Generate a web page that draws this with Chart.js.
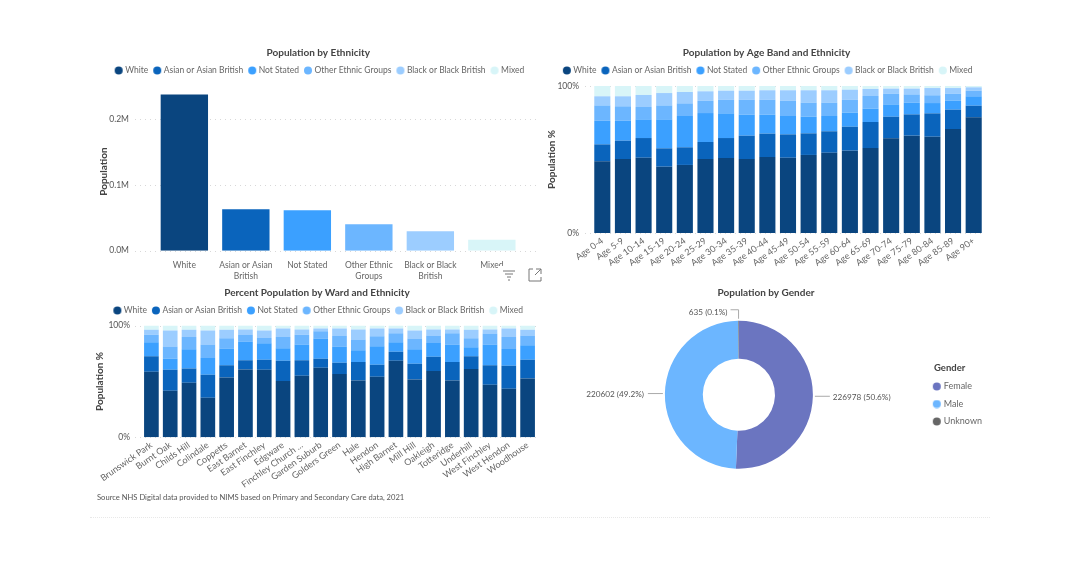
<!DOCTYPE html>
<html>
<head>
<meta charset="utf-8">
<title>Population dashboard</title>
<script src="https://cdn.jsdelivr.net/npm/chart.js@4"></script>
<style>
  html, body { margin: 0; background: #fff; }
  #page { position: relative; width: 1080px; height: 565px; overflow: hidden; filter: blur(0.45px); }
  #page canvas { position: absolute; }
  #source { position: absolute; left: 97px; top: 492px; font: 7.6px Lato, sans-serif; color: #555; white-space: nowrap; }
  #genderTitle { position: absolute; left: 934px; top: 362px; font: bold 9.5px Lato, sans-serif; color: #444; }
  #rule { position: absolute; left: 90px; top: 517px; width: 900px; border-top: 1px dotted #e8e8e8; }
  #icons { position: absolute; left: 498px; top: 266px; width: 46px; height: 18px; background: #fff; }
  #icons svg { position: absolute; top: 2px; }
</style>
</head>
<body>
<div id="page">
  <canvas id="ethnicity" style="left:90px;top:40px"></canvas>
  <canvas id="age" style="left:540px;top:40px"></canvas>
  <canvas id="ward" style="left:90px;top:280px"></canvas>
  <canvas id="gender" style="left:549px;top:280px"></canvas>
  <div id="icons">
    <svg width="14" height="14" style="left:4px" fill="none" stroke="#777" stroke-width="1"><path d="M1 3h12M3 6h8M5 9h4M6 12h2"/></svg>
    <svg width="14" height="14" style="left:30px" fill="none" stroke="#777" stroke-width="1"><path d="M5 1H1v12h12V9M8 1h5v5M13 1L7 7"/></svg>
  </div>
  <div id="genderTitle">Gender</div>
  <div id="source">Source NHS Digital data provided to NIMS based on Primary and Secondary Care data, 2021</div>
  <div id="rule"></div>
</div>
<script>
const ethnicGroups = ['White', 'Asian or Asian British', 'Not Stated', 'Other Ethnic Groups', 'Black or Black British', 'Mixed'];
const ethnicTickLabels = ['White', ['Asian or Asian', 'British'], 'Not Stated', ['Other Ethnic', 'Groups'], ['Black or Black', 'British'], 'Mixed'];
const ethnicColors = ['#0a457f', '#0a64bc', '#3ba0ff', '#6cb6ff', '#9ccdff', '#d8f5f8'];
const populationByEthnicity = [237000, 63000, 61500, 40000, 29500, 16500];
const populationTicks = [0, 100000, 200000];
const percentTicks = [0, 100];

const ageBands = ['Age 0-4', 'Age 5-9', 'Age 10-14', 'Age 15-19', 'Age 20-24', 'Age 25-29', 'Age 30-34', 'Age 35-39', 'Age 40-44', 'Age 45-49', 'Age 50-54', 'Age 55-59', 'Age 60-64', 'Age 65-69', 'Age 70-74', 'Age 75-79', 'Age 80-84', 'Age 85-89', 'Age 90+'];
const ageWhite = [48.8, 50.3, 51.2, 45.1, 46.3, 50.3, 51.0, 50.3, 51.7, 51.2, 53.1, 54.6, 56.0, 57.8, 64.4, 66.2, 65.5, 70.7, 78.7];
const ageAsian = [11.5, 12.5, 13.4, 12.5, 12.0, 11.6, 13.6, 15.9, 15.9, 15.9, 14.7, 14.6, 16.3, 17.7, 14.7, 14.5, 15.9, 13.2, 7.9];
const ageNotStated = [16.1, 13.6, 12.7, 19.7, 21.3, 19.7, 16.8, 14.3, 12.9, 12.5, 11.3, 10.4, 9.6, 9.1, 8.4, 8.0, 7.0, 6.1, 6.4];
const ageOther = [10.4, 9.8, 8.4, 9.5, 8.6, 8.4, 9.3, 10.2, 10.2, 10.4, 9.6, 9.1, 8.8, 8.6, 7.3, 5.6, 5.3, 4.8, 3.8];
const ageBlack = [6.2, 6.8, 8.2, 8.4, 7.7, 6.4, 6.1, 6.1, 6.4, 7.1, 8.4, 8.4, 6.8, 4.8, 3.4, 3.9, 4.9, 3.8, 2.3];
const ageMixed = [7.0, 7.0, 6.1, 4.8, 4.1, 3.6, 3.2, 3.2, 2.9, 2.9, 2.9, 2.9, 2.5, 2.0, 1.8, 1.8, 1.4, 1.4, 0.9];

const wards = ['Brunswick Park', 'Burnt Oak', 'Childs Hill', 'Colindale', 'Coppetts', 'East Barnet', 'East Finchley', 'Edgware', 'Finchley Church ...', 'Garden Suburb', 'Golders Green', 'Hale', 'Hendon', 'High Barnet', 'Mill Hill', 'Oakleigh', 'Totteridge', 'Underhill', 'West Finchley', 'West Hendon', 'Woodhouse'];
const wardWhite = [58.7, 41.6, 48.8, 35.3, 53.6, 60.8, 60.5, 50.3, 55.1, 62.3, 56.6, 50.9, 54.2, 68.6, 51.8, 59.3, 50.9, 61.1, 47.0, 43.4, 52.7];
const wardAsian = [13.8, 18.9, 12.9, 20.7, 10.8, 8.1, 9.0, 18.3, 13.8, 8.1, 10.2, 16.5, 10.8, 8.1, 14.1, 12.9, 16.5, 11.4, 17.4, 20.7, 16.8];
const wardNotStated = [12.6, 9.9, 17.1, 15.0, 15.0, 16.8, 14.7, 11.1, 14.1, 18.0, 14.4, 10.5, 16.5, 8.4, 12.9, 12.3, 15.6, 8.1, 18.6, 15.0, 12.9];
const wardOther = [6.6, 10.8, 11.1, 12.0, 9.3, 6.3, 4.8, 10.2, 8.7, 6.6, 9.6, 9.6, 9.0, 8.1, 9.6, 6.6, 10.2, 8.1, 9.9, 10.8, 8.7];
const wardBlack = [4.5, 14.4, 6.3, 12.6, 7.5, 4.5, 6.6, 7.5, 4.8, 2.4, 6.6, 9.0, 6.9, 4.2, 7.2, 5.4, 3.3, 7.5, 3.6, 7.5, 5.1];
const wardMixed = [3.9, 4.5, 3.9, 4.5, 3.9, 3.6, 4.5, 2.7, 3.6, 2.7, 2.7, 3.6, 2.7, 2.7, 4.5, 3.6, 3.6, 3.9, 3.6, 2.7, 3.9];

const genders = ['Female', 'Male', 'Unknown'];
const genderValues = [226978, 220602, 635];
const genderLabels = ['226978 (50.6%)', '220602 (49.2%)', '635 (0.1%)'];
const genderColors = ['#6b75c0', '#6cb6ff', '#666666'];

const FONT = 'Lato, sans-serif';
const TEXT = '#666';
const TITLE = '#444';

// legend marker: a circle sitting close to its text
function dot(color) {
  const c = document.createElement('canvas');
  c.width = 14;
  c.height = 9;
  const x = c.getContext('2d');
  x.fillStyle = color;
  x.beginPath();
  x.arc(9, 4.5, 4, 0, Math.PI * 2);
  x.fill();
  return c;
}

function legendItems(names, colors) {
  return () => names.map((n, i) => ({ text: n, fillStyle: colors[i], strokeStyle: colors[i], fontColor: TEXT, pointStyle: dot(colors[i]), lineWidth: 0 }));
}

// fixed legend height, and nudges for title and legend after layout
const placeBlocks = {
  id: 'placeBlocks',
  beforeInit(chart, args, opts) {
    if (!opts.height) return;
    const fit = chart.legend.fit;
    chart.legend.fit = function () {
      fit.call(this);
      this.height = opts.height;
    };
  },
  afterLayout(chart, args, opts) {
    const t = chart.titleBlock, l = chart.legend;
    t.left += opts.titleDx || 0;
    t.right += opts.titleDx || 0;
    l.left += opts.legendDx || 0;
    l.right += opts.legendDx || 0;
    l.top += opts.legendDy || 0;
    l.bottom += opts.legendDy || 0;
  }
};

// dotted value lines, wider than the band of the bars
const sideGrid = {
  id: 'sideGrid',
  beforeDatasetsDraw(chart, args, opts) {
    const y = chart.scales.y, c = chart.ctx;
    c.save();
    c.strokeStyle = '#d8d8d8';
    c.setLineDash([1, 4]);
    y.ticks.forEach(t => {
      const py = Math.round(y.getPixelForValue(t.value)) + 0.5;
      c.beginPath();
      c.moveTo(opts.from, py);
      c.lineTo(opts.to, py);
      c.stroke();
    });
    c.restore();
  }
};

function titleOpts(text) {
  return {
    display: true, text: text, color: TITLE,
    font: { family: FONT, size: 10, weight: 'bold' },
    padding: { top: 7, bottom: 4.5 }
  };
}

function stackedDatasets(series) {
  return series.map((s, i) => ({
    label: ethnicGroups[i], data: s,
    backgroundColor: ethnicColors[i],
    borderWidth: 0, barPercentage: 0.78, categoryPercentage: 1
  }));
}

function barChart(id, box, data, options) {
  const el = document.getElementById(id);
  el.style.width = box.w + 'px';
  el.style.height = box.h + 'px';
  el.width = box.w;
  el.height = box.h;
  return new Chart(el, {
    type: 'bar',
    data: data,
    options: {
      responsive: false, animation: false,
      layout: { padding: { left: 0, right: box.right, top: 0, bottom: 0 } },
      plugins: {
        title: titleOpts(options.title),
        legend: {
          position: 'top',
          labels: {
            usePointStyle: true, boxHeight: 6, padding: 2.75, color: TEXT,
            font: { family: FONT, size: 8.5 },
            generateLabels: legendItems(ethnicGroups, ethnicColors)
          }
        },
        placeBlocks: { height: box.legend, titleDx: box.dx, legendDx: box.dx },
        sideGrid: { from: box.gridFrom, to: box.gridTo },
        tooltip: { enabled: false }
      },
      scales: {
        x: {
          stacked: true,
          grid: { display: false, drawTicks: false }, border: { display: false },
          afterFit(s) { s.height = box.xh; },
          ticks: {
            color: TEXT, font: { family: FONT, size: options.xSize, lineHeight: 1.3 }, padding: options.xPad,
            minRotation: options.rot || 0, maxRotation: options.rot || 0, autoSkip: false,
            callback: options.xCallback || function (v) { return this.getLabelForValue(v); }
          }
        },
        y: {
          stacked: true, min: 0, max: options.max, bounds: 'data',
          grid: { display: false }, border: { display: false },
          afterFit(s) { s.width = box.yw; },
          afterBuildTicks(s) { s.ticks = options.yTicks.map(v => ({ value: v })); },
          title: { display: true, text: options.yTitle, color: TITLE, font: { family: FONT, size: 10, weight: 'bold' }, padding: { top: box.yTitleTop, bottom: 0 } },
          ticks: { color: '#555', font: { family: FONT, size: 8.5 }, padding: box.yTickPad, callback: options.yCallback }
        }
      }
    },
    plugins: [placeBlocks, sideGrid]
  });
}

barChart('ethnicity', { w: 456, h: 250, right: 23.4, legend: 29.1, xh: 39.3, yw: 63.6, dx: 12, gridFrom: 45, gridTo: 450, yTitleTop: 7.7, yTickPad: 16.6 }, {
  labels: ethnicGroups,
  datasets: [{ data: populationByEthnicity, backgroundColor: ethnicColors, borderWidth: 0, barPercentage: 0.77, categoryPercentage: 1 }]
}, {
  title: 'Population by Ethnicity', yTitle: 'Population', max: 240000, yTicks: populationTicks, xPad: 9, xSize: 8.5,
  xCallback(v, i) { return ethnicTickLabels[i]; },
  yCallback(v) { return (v / 1000000).toFixed(1) + 'M'; }
});

barChart('age', { w: 454, h: 233, right: 10, legend: 22.5, xh: 40, yw: 52, dx: 4.5, gridFrom: 45, gridTo: 444, yTitleTop: 6, yTickPad: 5 }, {
  labels: ageBands,
  datasets: stackedDatasets([ageWhite, ageAsian, ageNotStated, ageOther, ageBlack, ageMixed])
}, {
  title: 'Population by Age Band and Ethnicity', yTitle: 'Population %', max: 100, yTicks: percentTicks, rot: 35, xPad: 2, xSize: 9,
  yCallback(v) { return v + '%'; }
});

barChart('ward', { w: 456, h: 218, right: 9, legend: 22.1, xh: 60.7, yw: 52, dx: 3.5, gridFrom: 45, gridTo: 447, yTitleTop: 3.3, yTickPad: 4 }, {
  labels: wards,
  datasets: stackedDatasets([wardWhite, wardAsian, wardNotStated, wardOther, wardBlack, wardMixed])
}, {
  title: 'Percent Population by Ward and Ethnicity', yTitle: 'Population %', max: 100, yTicks: percentTicks, rot: 35, xPad: 2, xSize: 9,
  yCallback(v) { return v + '%'; }
});

// labels with leader lines beside the donut slices
const sliceLabels = {
  id: 'sliceLabels',
  afterDatasetsDraw(chart) {
    const c = chart.ctx, arcs = chart.getDatasetMeta(0).data;
    c.save();
    c.font = '8.2px ' + FONT;
    c.fillStyle = '#555';
    c.strokeStyle = '#aaa';
    c.textBaseline = 'middle';
    arcs.forEach((a, i) => {
      const p = a.getProps(['x', 'y', 'startAngle', 'endAngle', 'outerRadius']);
      const mid = (p.startAngle + p.endAngle) / 2;
      const ex = p.x + Math.cos(mid) * (p.outerRadius + 2);
      const ey = p.y + Math.sin(mid) * (p.outerRadius + 2);
      c.beginPath();
      c.moveTo(ex, ey);
      if (i === 2) {
        c.lineTo(ex, ey - 9);
        c.lineTo(ex - 8, ey - 9);
        c.stroke();
        c.textAlign = 'right';
        c.fillText(genderLabels[i], ex - 11, ey - 6);
      } else if (i === 0) {
        c.lineTo(ex + 15, ey);
        c.stroke();
        c.textAlign = 'left';
        c.fillText(genderLabels[i], ex + 18, ey + 1);
      } else {
        c.lineTo(ex - 15, ey);
        c.stroke();
        c.textAlign = 'right';
        c.fillText(genderLabels[i], ex - 19, ey + 1);
      }
    });
    c.restore();
  }
};

const genderEl = document.getElementById('gender');
genderEl.width = 444;
genderEl.height = 206;
genderEl.style.width = '444px';
genderEl.style.height = '206px';
new Chart(genderEl, {
  type: 'doughnut',
  data: {
    labels: genders,
    datasets: [{ data: genderValues, backgroundColor: genderColors, borderWidth: 0 }]
  },
  options: {
    responsive: false, animation: false, radius: 74, cutout: 44.5,
    layout: { padding: { left: 6, right: 0, top: 0, bottom: 0 } },
    plugins: {
      title: titleOpts('Population by Gender'),
      tooltip: { enabled: false },
      placeBlocks: { titleDx: -8, legendDx: -1, legendDy: 21 },
      legend: {
        position: 'right',
        labels: {
          usePointStyle: true, boxHeight: 6, padding: 8.5, color: TEXT,
          font: { family: FONT, size: 9 },
          generateLabels: legendItems(genders, genderColors)
        }
      }
    }
  },
  plugins: [placeBlocks, sliceLabels]
});
</script>
</body>
</html>
